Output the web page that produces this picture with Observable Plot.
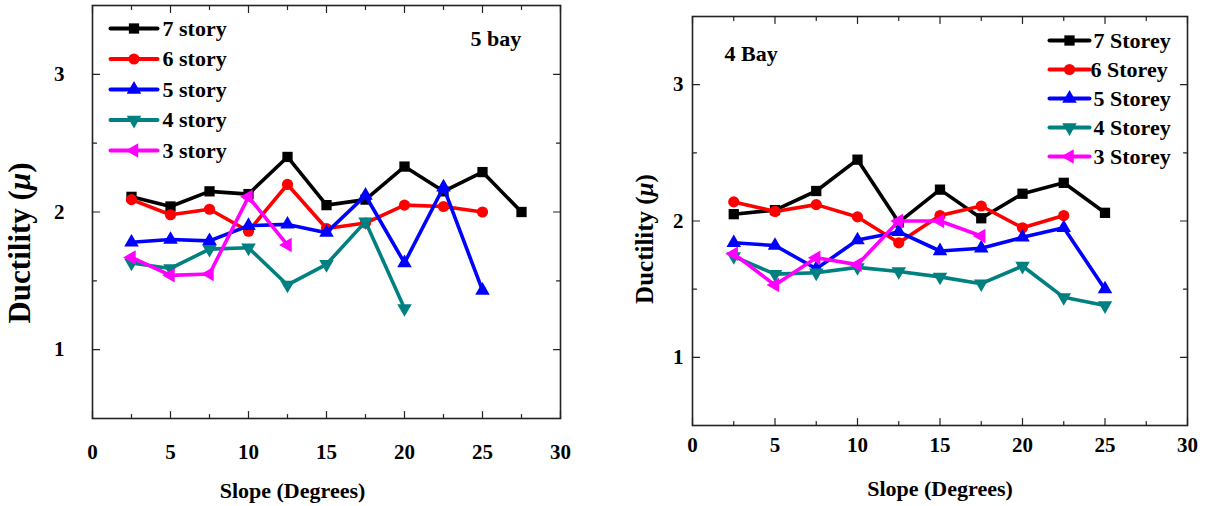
<!DOCTYPE html>
<html>
<head>
<meta charset="utf-8">
<script src="https://cdn.jsdelivr.net/npm/d3@7"></script>
<script src="https://cdn.jsdelivr.net/npm/@observablehq/plot@0.6"></script>
<style>
  html, body { margin: 0; padding: 0; background: #fff; }
  #wrap { position: relative; width: 1205px; height: 506px; overflow: hidden; }
  #left, #right { position: absolute; top: 0; }
  #left { left: 0; }
  #right { left: 600px; }
  svg text { font-family: "Liberation Serif", "Times New Roman", serif; }
</style>
</head>
<body>
<div id="wrap"><div id="left"></div><div id="right"></div></div>
<script>
// Slope angles (degrees) shared by all series
const slopes = [2.5, 5, 7.5, 10, 12.5, 15, 17.5, 20, 22.5, 25, 27.5];

// 5 bay frames: ductility by number of storeys
const bay5Names = ["7 story", "6 story", "5 story", "4 story", "3 story"];
const bay5Story7 = [2.11, 2.04, 2.15, 2.13, 2.40, 2.05, 2.09, 2.33, 2.15, 2.29, 2.00];
const bay5Story6 = [2.09, 1.98, 2.02, 1.86, 2.20, 1.88, 1.92, 2.05, 2.04, 2.00];
const bay5Story5 = [1.78, 1.80, 1.79, 1.90, 1.91, 1.85, 2.12, 1.63, 2.18, 1.43];
const bay5Story4 = [1.63, 1.59, 1.73, 1.74, 1.47, 1.62, 1.93, 1.30];
const bay5Story3 = [1.67, 1.54, 1.55, 2.11, 1.76];

// 4 bay frames
const bay4Names = ["7 Storey", "6 Storey", "5 Storey", "4 Storey", "3 Storey"];
const bay4Story7 = [2.05, 2.08, 2.22, 2.45, 1.99, 2.23, 2.02, 2.20, 2.28, 2.06];
const bay4Story6 = [2.14, 2.07, 2.12, 2.03, 1.84, 2.04, 2.11, 1.95, 2.04];
const bay4Story5 = [1.84, 1.82, 1.65, 1.86, 1.92, 1.78, 1.80, 1.88, 1.95, 1.50];
const bay4Story4 = [1.74, 1.61, 1.62, 1.66, 1.63, 1.59, 1.54, 1.67, 1.44, 1.38];
const bay4Story3 = [1.76, 1.53, 1.73, 1.68, 2.00, 2.00, 1.89];

// Axis ticks
const xMajor = [0, 5, 10, 15, 20, 25, 30];
const xMinor = [2.5, 7.5, 12.5, 17.5, 22.5, 27.5];
const yMajor = [1, 2, 3];
const yMinor = [1.5, 2.5];

const seriesColors = ["#000000", "#ff0000", "#0000ff", "#008080", "#ff00ff"];

// Marker shapes: square, circle, triangle up, triangle down, triangle left
const triDown = {
  draw(ctx, size) {
    const y = -Math.sqrt(size / (Math.sqrt(3) * 3));
    ctx.moveTo(0, -y * 2);
    ctx.lineTo(-Math.sqrt(3) * y, y);
    ctx.lineTo(Math.sqrt(3) * y, y);
    ctx.closePath();
  }
};
const triLeft = {
  draw(ctx, size) {
    const y = -Math.sqrt(size / (Math.sqrt(3) * 3));
    ctx.moveTo(y * 2, 0);
    ctx.lineTo(-y, -Math.sqrt(3) * y);
    ctx.lineTo(-y, Math.sqrt(3) * y);
    ctx.closePath();
  }
};
const markers = [
  {symbol: d3.symbolSquare, r: 5.8},
  {symbol: d3.symbolCircle, r: 5.6},
  {symbol: d3.symbolTriangle, r: 5.4},
  {symbol: triDown, r: 5.4},
  {symbol: triLeft, r: 5.4}
];

// Inward tick stroke
const tickShape = {draw(ctx, l) { ctx.moveTo(0, 0); ctx.lineTo(0, -l); }};

const FONT = "Liberation Serif";

function toRows(names, arrays) {
  return names.map((name, i) =>
    arrays[i].map((v, j) => ({series: name, slope: slopes[j], mu: v}))
  );
}

function inwardTicks() {
  const common = {anchor: "start", shape: tickShape, stroke: "#222", strokeWidth: 1.2};
  return [
    Plot.vector(xMajor, {...common, x: d => d, frameAnchor: "bottom", length: 7, rotate: 0}),
    Plot.vector(xMinor, {...common, x: d => d, frameAnchor: "bottom", length: 4, rotate: 0}),
    Plot.vector(xMajor, {...common, x: d => d, frameAnchor: "top", length: 7, rotate: 180}),
    Plot.vector(xMinor, {...common, x: d => d, frameAnchor: "top", length: 4, rotate: 180}),
    Plot.vector(yMajor, {...common, y: d => d, frameAnchor: "left", length: 7, rotate: 90}),
    Plot.vector(yMinor, {...common, y: d => d, frameAnchor: "left", length: 4, rotate: 90}),
    Plot.vector(yMajor, {...common, y: d => d, frameAnchor: "right", length: 7, rotate: -90}),
    Plot.vector(yMinor, {...common, y: d => d, frameAnchor: "right", length: 4, rotate: -90})
  ];
}

function seriesMarks(rows) {
  const marks = [];
  rows.forEach((data, i) => {
    marks.push(Plot.line(data, {x: "slope", y: "mu", stroke: seriesColors[i], strokeWidth: 3.6}));
    marks.push(Plot.dot(data, {x: "slope", y: "mu", fill: seriesColors[i], stroke: "none",
      symbol: markers[i].symbol, r: markers[i].r}));
  });
  return marks;
}

const textStyle = {fontWeight: "bold", fontFamily: FONT, fill: "#000", lineAnchor: "middle"};

function legendMarks(names, lg) {
  const marks = [];
  names.forEach((name, i) => {
    const dy = lg.top + i * lg.step;
    marks.push(Plot.vector([name], {frameAnchor: "top-left", dx: lg.lineX, dy, length: lg.lineLen,
      rotate: 90, anchor: "start", shape: tickShape, stroke: seriesColors[i], strokeWidth: 4}));
    marks.push(Plot.dot([name], {frameAnchor: "top-left", dx: lg.lineX + lg.lineLen / 2, dy,
      fill: seriesColors[i], stroke: "none", symbol: markers[i].symbol, r: markers[i].r}));
    marks.push(Plot.text([name], {...textStyle, frameAnchor: "top-left",
      dx: lg.textX + (lg.textShift ? lg.textShift[i] : 0), dy,
      text: d => d, textAnchor: "start", fontSize: 22}));
  });
  return marks;
}

function panel(opts) {
  return Plot.plot({
    width: opts.width,
    height: 506,
    marginLeft: opts.margin[3],
    marginRight: opts.margin[1],
    marginTop: opts.margin[0],
    marginBottom: opts.margin[2],
    x: {domain: [0, 30]},
    y: {domain: [0.5, 3.5]},
    style: {fontFamily: FONT, fontWeight: "bold", fontSize: "21px", color: "#000", background: "#fff"},
    marks: [
      Plot.frame({stroke: "#222", strokeWidth: 1.6}),
      ...inwardTicks(),
      Plot.axisX({ticks: xMajor, tickFormat: d3.format("d"), tickSize: 0, tickPadding: opts.xPad,
        label: null, fontSize: 21}),
      Plot.axisY({ticks: yMajor, tickFormat: d3.format("d"), tickSize: 0, tickPadding: opts.yPad,
        label: null, fontSize: 21}),
      ...seriesMarks(opts.rows),
      ...legendMarks(opts.names, opts.legend),
      Plot.text([opts.tag], {...textStyle, frameAnchor: "top-left", dx: opts.tagPos[0], dy: opts.tagPos[1],
        text: d => d, textAnchor: "start", fontSize: 22}),
      Plot.text(["Slope (Degrees)"], {...textStyle, frameAnchor: "bottom", dx: opts.xTitle[0], dy: opts.xTitle[1],
        text: d => d, textAnchor: "middle", fontSize: 22}),
      Plot.text(["Ductility (μ)"], {...textStyle, frameAnchor: "left", dx: opts.yTitle[0], dy: opts.yTitle[1],
        rotate: -90, text: d => d, textAnchor: "middle", fontSize: opts.yTitleSize})
    ]
  });
}

// Set the Greek mu in italics inside the axis title
function italicMu(svg) {
  d3.select(svg).selectAll("text").filter(function () { return this.textContent === "Ductility (μ)"; })
    .each(function () {
      const t = d3.select(this);
      t.text(null);
      t.append("tspan").text("Ductility (");
      t.append("tspan").attr("font-style", "italic").text("μ");
      t.append("tspan").text(")");
    });
}

const left = panel({
  width: 600,
  margin: [5, 40, 88, 92],
  rows: toRows(bay5Names, [bay5Story7, bay5Story6, bay5Story5, bay5Story4, bay5Story3]),
  names: bay5Names,
  legend: {top: 23, step: 30.5, lineX: 18, lineLen: 47, textX: 70},
  tag: "5 bay",
  tagPos: [378, 33],
  xPad: 26,
  yPad: 28,
  xTitle: [-34, 72],
  yTitle: [-72, 31],
  yTitleSize: 31
});
italicMu(left);
document.getElementById("left").appendChild(left);

const right = panel({
  width: 605,
  margin: [16, 18, 81, 92],
  rows: toRows(bay4Names, [bay4Story7, bay4Story6, bay4Story5, bay4Story4, bay4Story3]),
  names: bay4Names,
  legend: {top: 24, step: 29, lineX: 357, lineLen: 40, textX: 401, textShift: [0, -3, 0, 0, 0]},
  tag: "4 Bay",
  tagPos: [32, 37],
  xPad: 12,
  yPad: 9,
  xTitle: [0, 63],
  yTitle: [-48, 18],
  yTitleSize: 25
});
italicMu(right);
document.getElementById("right").appendChild(right);
</script>
</body>
</html>
